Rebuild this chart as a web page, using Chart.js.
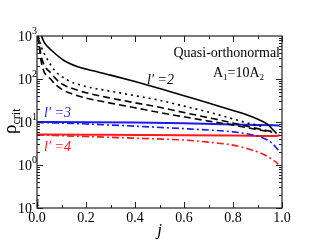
<!DOCTYPE html>
<html>
<head>
<meta charset="utf-8">
<script src="https://cdn.jsdelivr.net/npm/chart.js@4"></script>
<style>
  html, body { margin: 0; padding: 0; background: #fff; }
  canvas { display: block; }
</style>
</head>
<body>
<canvas id="rhoChart" width="317" height="245"></canvas>
<script>
// tick labels
const xTicks = [0.0, 0.2, 0.4, 0.6, 0.8, 1.0];
const yExponents = [-1, 0, 1, 2, 3];

// l'=2 family (black)
const jSolid2 = [0.018, 0.03, 0.06, 0.11, 0.17, 0.2, 0.3, 0.4, 0.5, 0.6, 0.7, 0.8, 0.85, 0.89, 0.94, 0.97, 0.978];
const rhoSolid2 = [1000, 700, 460, 270, 190, 170, 123, 87, 60, 41, 27.5, 18.6, 15.2, 12.4, 8.9, 6.0, 5.4];
const jDot2 = [0.005, 0.018, 0.045, 0.072, 0.127, 0.195, 0.3, 0.4, 0.5, 0.6, 0.7, 0.77, 0.86, 0.92];
const rhoDot2 = [1000, 550, 270, 158, 93, 68, 52, 41, 32, 23.4, 17, 13.2, 9.5, 7.9];
const jDashA = [0.004, 0.018, 0.059, 0.1, 0.154, 0.2, 0.3, 0.4, 0.5, 0.6, 0.7, 0.8, 0.89, 0.96];
const rhoDashA = [1000, 325, 132, 78, 58, 48, 36, 28, 22, 16.6, 12.6, 9.5, 7.2, 6.0];
const jDashB = [0.004, 0.018, 0.059, 0.1, 0.154, 0.2, 0.3, 0.4, 0.5, 0.6, 0.7, 0.8, 0.89, 0.96];
const rhoDashB = [1000, 240, 95, 58, 43, 36, 27.5, 21.4, 16.6, 13.2, 10.5, 8.5, 6.8, 5.75];

// l'=3 (blue)
const jSolid3 = [0, 0.2, 0.4, 0.6, 0.8, 0.9, 0.99];
const rhoSolid3 = [10, 9.9, 9.7, 9.3, 8.8, 8.5, 8.3];
const jDashDot3 = [0, 0.2, 0.4, 0.6, 0.7, 0.8, 0.88, 0.93, 0.96, 0.985];
const rhoDashDot3 = [9.8, 9.0, 8.0, 7.0, 6.5, 5.9, 5.0, 4.1, 3.2, 2.2];

// l'=4 (red)
const jSolid4 = [0, 0.2, 0.4, 0.6, 0.8, 0.9, 0.95, 0.98, 0.99];
const rhoSolid4 = [5.1, 5.05, 5.0, 4.95, 4.85, 4.75, 4.7, 4.75, 5.0];
const jDashDot4 = [0, 0.2, 0.4, 0.6, 0.7, 0.8, 0.88, 0.93, 0.96, 0.985];
const rhoDashDot4 = [5.0, 4.6, 4.2, 3.8, 3.4, 2.9, 2.2, 1.7, 1.35, 1.05];

const pts = (xs, ys) => xs.map((x, i) => ({ x: x, y: ys[i] }));

const serif = '"Liberation Serif", "DejaVu Serif", serif';

function line(ctx, x1, y1, x2, y2) {
    ctx.beginPath();
    ctx.moveTo(x1, y1);
    ctx.lineTo(x2, y2);
    ctx.stroke();
}

// frame, inward ticks and all the text
const decorations = {
    id: 'decorations',
    afterDatasetsDraw(chart) {
        const { ctx, chartArea: a, scales: { x, y } } = chart;
        ctx.save();
        ctx.strokeStyle = '#222';
        ctx.lineWidth = 1;

        for (let i = 0; i <= 10; i++) {
            const px = Math.round(x.getPixelForValue(i / 10)) + 0.5;
            const len = i % 2 === 0 ? 6 : 3;
            line(ctx, px, a.bottom, px, a.bottom - len);
            line(ctx, px, a.top, px, a.top + len);
        }
        for (let e = -1; e <= 2; e++) {
            for (let m = 1; m <= 9; m++) {
                const py = Math.round(y.getPixelForValue(m * Math.pow(10, e))) + 0.5;
                const len = m === 1 ? 6 : 3;
                line(ctx, a.left, py, a.left + len, py);
                line(ctx, a.right, py, a.right - len, py);
            }
        }
        ctx.lineWidth = 1.2;
        ctx.strokeRect(a.left, a.top, a.right - a.left, a.bottom - a.top);

        ctx.fillStyle = '#000';
        // x tick labels
        ctx.font = '14px ' + serif;
        ctx.textAlign = 'center';
        ctx.textBaseline = 'alphabetic';
        xTicks.forEach(v => {
            ctx.fillText(v.toFixed(1), x.getPixelForValue(v), a.bottom + 14);
        });
        // y tick labels 10^n
        yExponents.forEach(e => {
            const py = y.getPixelForValue(Math.pow(10, e));
            ctx.font = '14px ' + serif;
            ctx.textAlign = 'right';
            ctx.fillText('10', a.left - 5, py + 5);
            ctx.font = '10px ' + serif;
            ctx.textAlign = 'left';
            ctx.fillText(e < 0 ? '-' + (-e) : String(e), a.left - 5, py - 2);
        });

        // axis titles
        ctx.font = 'italic 17px ' + serif;
        ctx.textAlign = 'center';
        ctx.fillText('j', (a.left + a.right) / 2, 235);

        ctx.save();
        ctx.translate(16, 134);
        ctx.rotate(-Math.PI / 2);
        ctx.textAlign = 'left';
        ctx.font = '19px ' + serif;
        ctx.fillText('\u03C1', 0, 0);
        const w = ctx.measureText('\u03C1').width;
        ctx.font = '12px ' + serif;
        ctx.fillText('crit', w, 4);
        ctx.restore();

        // annotations
        ctx.font = '14px ' + serif;
        ctx.textAlign = 'right';
        ctx.fillText('Quasi-orthonormal', 280, 57);

        ctx.textAlign = 'left';
        let cx = 213;
        const part = (s, f, dy) => {
            ctx.font = f;
            ctx.fillText(s, cx, 77 + dy);
            cx += ctx.measureText(s).width;
        };
        part('A', '14px ' + serif, 0);
        part('1', '9px ' + serif, 3);
        part('=10A', '14px ' + serif, 0);
        part('2', '9px ' + serif, 3);

        ctx.font = 'italic 14px ' + serif;
        ctx.fillStyle = '#000';
        ctx.fillText('l\u2032 =2', 147, 84);
        ctx.fillStyle = '#1a1aff';
        ctx.fillText('l\u2032 =3', 44, 117);
        ctx.fillStyle = '#ff1a1a';
        ctx.fillText('l\u2032 =4', 44, 151);
        ctx.restore();
    }
};

const base = { pointRadius: 0, borderWidth: 1.6, fill: false, cubicInterpolationMode: 'monotone' };

new Chart(document.getElementById('rhoChart'), {
    type: 'line',
    data: {
        datasets: [
            { ...base, data: pts(jSolid2, rhoSolid2), borderColor: '#000' },
            { ...base, data: pts(jDot2, rhoDot2), borderColor: '#000', borderDash: [2, 4] },
            { ...base, data: pts(jDashA, rhoDashA), borderColor: '#000', borderDash: [7, 4] },
            { ...base, data: pts(jDashB, rhoDashB), borderColor: '#000', borderDash: [7, 4] },
            { ...base, data: pts(jSolid3, rhoSolid3), borderColor: '#1a1aff', borderWidth: 2 },
            { ...base, data: pts(jDashDot3, rhoDashDot3), borderColor: '#1a1aff', borderDash: [7, 3, 2, 3] },
            { ...base, data: pts(jSolid4, rhoSolid4), borderColor: '#ff1a1a', borderWidth: 2 },
            { ...base, data: pts(jDashDot4, rhoDashDot4), borderColor: '#ff1a1a', borderDash: [7, 3, 2, 3] }
        ]
    },
    options: {
        responsive: false,
        animation: false,
        devicePixelRatio: 1,
        layout: { padding: { top: 36, right: 35, left: 0, bottom: 0 } },
        plugins: { legend: { display: false }, tooltip: { enabled: false } },
        scales: {
            x: {
                type: 'linear', min: 0, max: 1,
                grid: { display: false, drawTicks: false },
                border: { display: false },
                ticks: { display: false },
                afterFit: s => { s.height = 37; }
            },
            y: {
                type: 'logarithmic', min: 0.1, max: 1000,
                grid: { display: false, drawTicks: false },
                border: { display: false },
                ticks: { display: false },
                afterFit: s => { s.width = 37; }
            }
        }
    },
    plugins: [decorations]
});
</script>
</body>
</html>
